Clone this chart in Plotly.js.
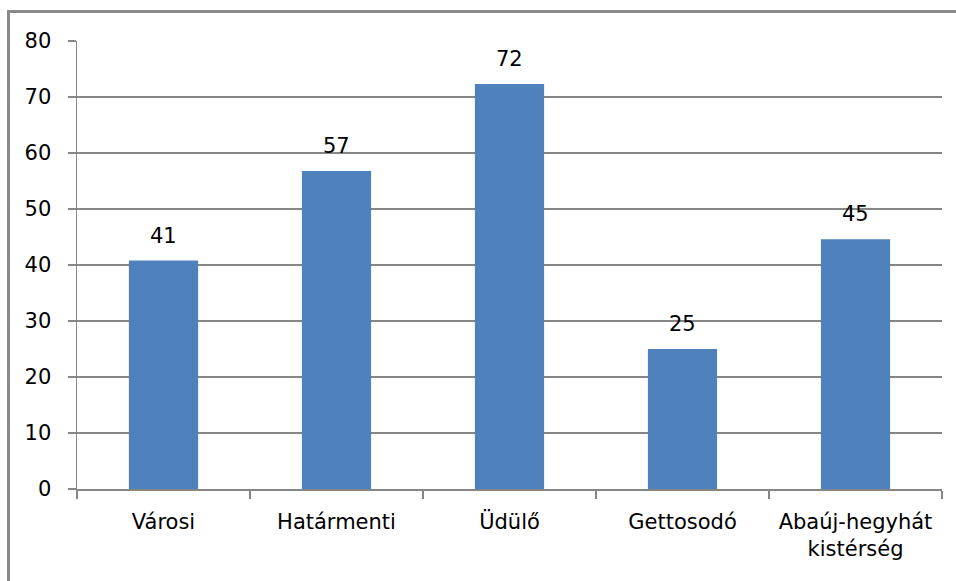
<!DOCTYPE html>
<html>
<head>
<meta charset="utf-8">
<script src="https://cdn.plot.ly/plotly-3.0.1.min.js"></script>
<style>
  html, body { margin: 0; padding: 0; background: #fff; }
  #wrap { position: relative; width: 956px; height: 581px; overflow: hidden; }
  #chart { position: absolute; left: 0; top: 0; width: 956px; height: 581px; }
  #frame { position: absolute; left: 7px; top: 10px; width: 1200px; height: 1200px;
           border: 3px solid #8a8a8a; pointer-events: none; z-index: 10; }
</style>
</head>
<body>
<div id="wrap">
  <div id="chart"></div>
  <div id="frame"></div>
</div>
<script>
const categories = ["Városi", "Határmenti", "Üdülő", "Gettosodó", "Abaúj-hegyhát<br>kistérség"];
const values = [40.8, 56.8, 72.3, 25.0, 44.6];
const labels = ["41", "57", "72", "25", "45"];
const yTicks = [0, 10, 20, 30, 40, 50, 60, 70, 80];

const font = "DejaVu Sans, Verdana, sans-serif";
const fs = 21;

const trace = {
  type: "bar",
  x: categories,
  y: values,
  marker: { color: "#4F81BD" },
  hoverinfo: "none"
};

const annotations = categories.map((c, i) => ({
  x: c, y: values[i], xref: "x", yref: "y",
  text: labels[i], showarrow: false,
  yanchor: "bottom", yshift: 11,
  font: { family: font, size: fs, color: "#000" }
}));

const layout = {
  width: 956, height: 581,
  margin: { l: 77, r: 14, t: 41, b: 92, pad: 0 },
  paper_bgcolor: "#fff", plot_bgcolor: "#fff",
  showlegend: false,
  bargap: 0.6,
  font: { family: font, size: fs, color: "#000" },
  xaxis: {
    type: "category",
    showline: true, linecolor: "#868686", linewidth: 1.5,
    ticks: "outside", tickson: "boundaries", ticklen: 8, tickcolor: "#868686", tickwidth: 1.5,
    showgrid: false, zeroline: false,
    ticklabelstandoff: 13,
    tickfont: { family: font, size: fs, color: "#000" }
  },
  yaxis: {
    range: [0, 80], tickvals: yTicks, ticktext: yTicks.map(String),
    showline: true, linecolor: "#868686", linewidth: 1.5,
    ticks: "outside", ticklen: 8, tickcolor: "#868686", tickwidth: 1.5,
    showgrid: true, gridcolor: "#868686", gridwidth: 1.5,
    zeroline: false,
    ticklabelstandoff: 12,
    tickfont: { family: font, size: fs, color: "#000" }
  },
  annotations: annotations
};

Plotly.newPlot("chart", [trace], layout, { staticPlot: true, displayModeBar: false });
</script>
</body>
</html>
